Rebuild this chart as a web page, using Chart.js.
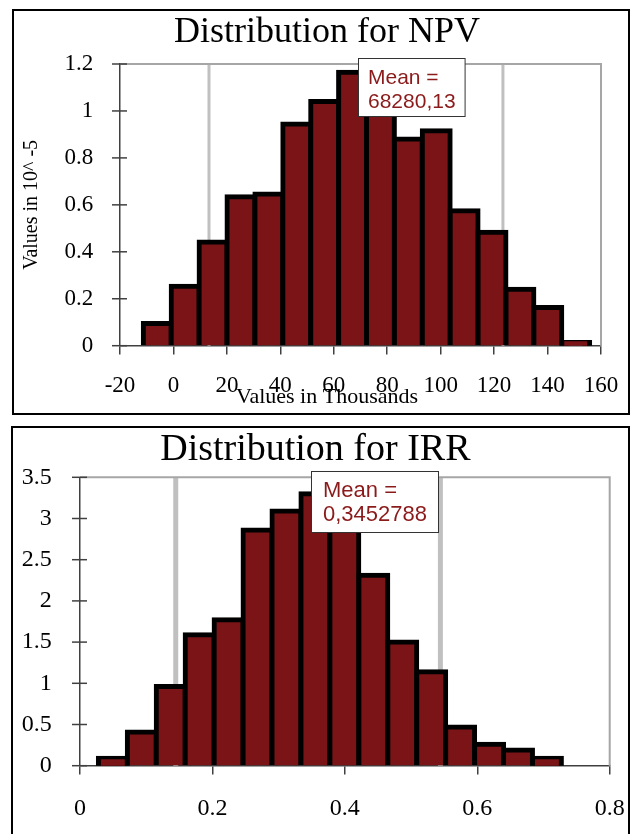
<!DOCTYPE html>
<html>
<head>
<meta charset="utf-8">
<title>Distribution for NPV / IRR</title>
<script src="https://cdn.jsdelivr.net/npm/chart.js@4.4.1/dist/chart.umd.min.js"></script>
<style>
  html, body { margin: 0; padding: 0; background: #fff; }
  body { width: 633px; height: 834px; position: relative; overflow: hidden; }
  .frame { position: absolute; border: 2px solid #000; box-sizing: border-box; }
  #npvFrame { left: 12px; top: 9px; width: 618px; height: 406px; }
  #irrFrame { left: 11px; top: 426px; width: 619px; height: 412px; }
  canvas { display: block; }
</style>
</head>
<body>
<div class="frame" id="npvFrame"><canvas id="npv" width="614" height="402"></canvas></div>
<div class="frame" id="irrFrame"><canvas id="irr" width="615" height="408"></canvas></div>
<script>
// NPV: bin centres in thousands, density in 10^-5
const npvBins = [-6.06, 4.38, 14.82, 25.26, 35.70, 46.14, 56.58, 67.02, 77.46, 87.90, 98.34, 108.78, 119.22, 129.66, 140.10, 150.54];
const npvDensity = [0.095, 0.253, 0.442, 0.635, 0.646, 0.944, 1.04, 1.165, 1.08, 0.88, 0.916, 0.575, 0.483, 0.241, 0.163, 0.014];
const npvXTicks = [-20, 0, 20, 40, 60, 80, 100, 120, 140, 160];
const npvYTicks = [0, 0.2, 0.4, 0.6, 0.8, 1, 1.2];
const npvMarkers = [13.3, 123.3];
const npvMean = 68.28013;
const npvMeanText = ['Mean =', '68280,13'];

// IRR: bin centres, density
const irrBins = [0.0496, 0.0933, 0.1370, 0.1807, 0.2244, 0.2681, 0.3118, 0.3555, 0.3992, 0.4430, 0.4867, 0.5304, 0.5741, 0.6178, 0.6615, 0.7052];
const irrDensity = [0.09, 0.41, 0.96, 1.59, 1.77, 2.86, 3.09, 3.30, 2.9, 2.31, 1.50, 1.14, 0.47, 0.26, 0.19, 0.09];
const irrXTicks = [0, 0.2, 0.4, 0.6, 0.8];
const irrYTicks = [0, 0.5, 1, 1.5, 2, 2.5, 3, 3.5];
const irrMarkers = [0.1446, 0.5443];
const irrMean = 0.3452788;
const irrMeanText = ['Mean =', '0,3452788'];

const SERIF = "'Liberation Serif', 'Times New Roman', serif";
const AXIS = '#404040';

// percentile lines and plot frame behind the bars
const backdropPlugin = {
    id: 'backdrop',
    beforeDatasetsDraw(chart, args, opts) {
        const { ctx, chartArea: a, scales: { x } } = chart;
        ctx.save();
        ctx.strokeStyle = '#c0c0c0';
        ctx.lineWidth = opts.markerWidth;
        opts.markers.forEach(v => {
            const px = x.getPixelForValue(v);
            ctx.beginPath();
            ctx.moveTo(px, a.top);
            ctx.lineTo(px, a.bottom);
            ctx.stroke();
        });
        ctx.strokeStyle = '#a6a6a6';
        ctx.lineWidth = 2;
        ctx.beginPath();
        ctx.moveTo(a.left, a.top);
        ctx.lineTo(a.right, a.top);
        ctx.lineTo(a.right, a.bottom);
        ctx.stroke();
        ctx.restore();
    }
};

// crossing y ticks and the mean box on top
const overlayPlugin = {
    id: 'overlay',
    afterDraw(chart, args, opts) {
        const { ctx, chartArea: a, scales: { x, y } } = chart;
        ctx.save();
        ctx.strokeStyle = AXIS;
        ctx.lineWidth = 1.5;
        for (const v of opts.yTicks) {
            const py = y.getPixelForValue(v);
            ctx.beginPath();
            ctx.moveTo(a.left - 8, py);
            ctx.lineTo(a.left + 7, py);
            ctx.stroke();
        }
        ctx.font = opts.boxFont + 'px "Liberation Sans", Arial, sans-serif';
        const w = Math.max(...opts.meanText.map(t => ctx.measureText(t).width)) + 2 * opts.boxPad;
        const bx = Math.round(x.getPixelForValue(opts.mean)) + 2.5;
        const by = Math.round(a.top - 6) + 0.5;
        const h = opts.boxHeight;
        ctx.fillStyle = '#fff';
        ctx.fillRect(bx, by, w, h);
        ctx.strokeStyle = '#333';
        ctx.lineWidth = 1;
        ctx.strokeRect(bx, by, w, h);
        ctx.fillStyle = '#8b1a1a';
        ctx.textAlign = 'left';
        ctx.textBaseline = 'alphabetic';
        ctx.fillText(opts.meanText[0], bx + opts.boxPad, by + 25);
        ctx.fillText(opts.meanText[1], bx + opts.boxPad, by + 49);
        ctx.restore();
    }
};

function tickSetter(values) {
    return scale => { scale.ticks = values.map(v => ({ value: v })); };
}

function makeHistogram(id, bins, density, xTicks, yTicks, look) {
    const points = bins.map((b, i) => ({ x: b, y: density[i] }));
    return new Chart(document.getElementById(id), {
        type: 'bar',
        data: {
            datasets: [{
                data: points,
                backgroundColor: '#7b1416',
                borderColor: '#000',
                borderWidth: 5,
                inflateAmount: 2.5,
                borderSkipped: 'start',
                barPercentage: 1,
                categoryPercentage: 1,
                clip: { left: 10, right: 10, top: 10, bottom: 0 }
            }]
        },
        plugins: [backdropPlugin, overlayPlugin],
        options: {
            responsive: false,
            animation: false,
            font: { family: SERIF },
            layout: { padding: look.padding },
            scales: {
                x: {
                    type: 'linear',
                    offset: false,
                    min: xTicks[0],
                    max: xTicks[xTicks.length - 1],
                    afterBuildTicks: tickSetter(xTicks),
                    afterFit: s => { s.height = look.xHeight; },
                    // long tick length gives the label gap, dash keeps only 8px of it visible
                    grid: {
                        offset: false, drawOnChartArea: false, tickLength: look.xGap,
                        tickBorderDash: [8, 1000], color: AXIS, lineWidth: 1.5
                    },
                    border: { display: true, color: AXIS, width: 1.5 },
                    ticks: {
                        color: '#000', padding: 0, maxRotation: 0, autoSkip: false,
                        font: { family: SERIF, size: look.tickSize },
                        format: { minimumFractionDigits: 0 }
                    }
                },
                y: {
                    min: yTicks[0],
                    max: yTicks[yTicks.length - 1],
                    afterBuildTicks: tickSetter(yTicks),
                    afterFit: s => { s.width = look.yWidth; },
                    grid: { drawOnChartArea: false, drawTicks: false },
                    border: { display: true, color: AXIS, width: 1.5 },
                    ticks: {
                        color: '#000', padding: look.yGap,
                        font: { family: SERIF, size: look.tickSize },
                        format: { minimumFractionDigits: 0 }
                    },
                    title: look.yTitle
                }
            },
            plugins: {
                legend: { display: false },
                tooltip: { enabled: false },
                title: {
                    display: true,
                    text: look.title,
                    color: '#000',
                    font: { family: SERIF, size: look.titleSize, weight: 'normal', lineHeight: look.titleLine },
                    padding: { top: 0, bottom: look.titleGap }
                },
                subtitle: look.xTitle,
                backdrop: { markers: look.markers, markerWidth: look.markerWidth },
                overlay: {
                    yTicks: yTicks,
                    mean: look.mean,
                    meanText: look.meanText,
                    boxFont: look.boxFont,
                    boxPad: look.boxPad,
                    boxHeight: look.boxHeight
                }
            }
        }
    });
}

makeHistogram('npv', npvBins, npvDensity, npvXTicks, npvYTicks, {
    padding: { left: 39, right: 27, top: 0, bottom: 0 },
    title: 'Distribution for NPV',
    titleSize: 36, titleLine: 1.2, titleGap: 9.8,
    tickSize: 23, xGap: 26.5, yGap: 26.7, xHeight: 54.1, yWidth: 67,
    yTitle: {
        display: true, text: 'Values in 10^ -5', color: '#000',
        font: { family: SERIF, size: 20, lineHeight: 1 },
        padding: { top: -31, bottom: 0 }
    },
    xTitle: {
        display: true, position: 'bottom', text: 'Values in Thousands', color: '#000',
        font: { family: SERIF, size: 22, weight: 'normal', lineHeight: 1 },
        padding: { top: -13.8, bottom: 5 }
    },
    markers: npvMarkers, markerWidth: 3,
    mean: npvMean, meanText: npvMeanText, boxFont: 21, boxPad: 9.5, boxHeight: 58
});

makeHistogram('irr', irrBins, irrDensity, irrXTicks, irrYTicks, {
    padding: { left: 8, right: 18.3, top: 0, bottom: 13.3 },
    title: 'Distribution for IRR',
    titleSize: 38, titleLine: 1.15, titleGap: 5.6,
    tickSize: 24, xGap: 28.2, yGap: 28.3, xHeight: 57, yWidth: 59,
    yTitle: { display: false },
    xTitle: { display: false },
    markers: irrMarkers, markerWidth: 5,
    mean: irrMean, meanText: irrMeanText, boxFont: 22, boxPad: 11.5, boxHeight: 61
});
</script>
</body>
</html>
